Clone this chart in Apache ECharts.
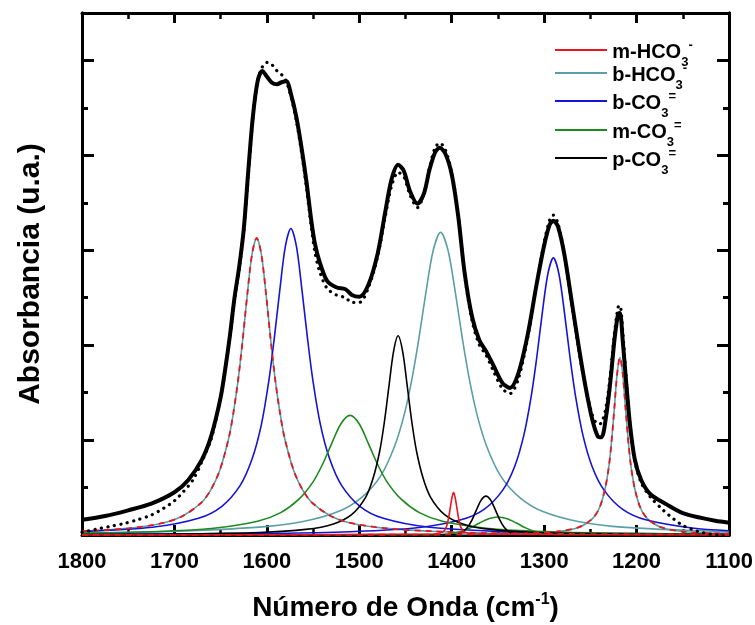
<!DOCTYPE html>
<html>
<head>
<meta charset="utf-8">
<script src="https://cdn.jsdelivr.net/npm/echarts@6/dist/echarts.min.js"></script>
<style>
  html, body { margin: 0; padding: 0; background: #ffffff; }
  #chart { width: 755px; height: 625px; }
</style>
</head>
<body>
<div id="chart"></div>
<script>
// Wavenumber axis (cm-1), drawn high to low
const xMin = 1100;
const xMax = 1800;
const xStep = 100;
// Absorbance axis (arbitrary units, no labels)
const yMin = 0;
const yMax = 5.5;

// Measured spectrum  [wavenumber, absorbance]
const measured = [
  [1800,0.03],[1785,0.06],[1770,0.09],[1755,0.12],[1740,0.16],[1725,0.21],[1712,0.28],[1700,0.36],
  [1690,0.46],[1680,0.58],[1670,0.78],[1660,1.02],[1650,1.45],[1645,1.75],[1640,2.08],[1635,2.48],
  [1630,2.80],[1625,3.20],[1620,3.80],[1615,4.40],[1610,4.78],[1605,4.93],[1600,4.98],[1595,4.96],
  [1590,4.90],[1584,4.85],[1579,4.78],[1574,4.62],[1568,4.36],[1562,4.00],[1557,3.65],[1552,3.25],
  [1548,2.98],[1543,2.78],[1535,2.60],[1525,2.53],[1515,2.50],[1508,2.45],[1500,2.45],[1490,2.61],
  [1480,2.94],[1472,3.35],[1465,3.68],[1458,3.82],[1452,3.78],[1445,3.58],[1437,3.45],[1430,3.60],
  [1424,3.87],[1418,4.08],[1413,4.13],[1407,4.06],[1400,3.82],[1393,3.38],[1386,2.74],[1378,2.26],
  [1370,2.00],[1363,1.90],[1355,1.73],[1345,1.54],[1337,1.49],[1328,1.64],[1318,2.07],[1308,2.65],
  [1300,3.08],[1294,3.32],[1290,3.37],[1285,3.28],[1278,2.95],[1270,2.43],[1262,1.92],[1255,1.55],
  [1248,1.27],[1242,1.17],[1238,1.18],[1233,1.35],[1228,1.72],[1224,2.12],[1220,2.40],[1218,2.42],
  [1215,2.15],[1211,1.62],[1207,1.15],[1202,0.78],[1195,0.55],[1185,0.40],[1171,0.26],[1160,0.17],
  [1150,0.10],[1140,0.06],[1131,0.03],[1120,0.01],[1112,0.00],[1100,-0.02]
];

// Sum of the fitted bands
const fitTotal = [
  [1800,0.16],[1775,0.20],[1750,0.26],[1725,0.33],[1700,0.45],[1685,0.58],[1670,0.80],[1660,1.05],
  [1650,1.45],[1645,1.75],[1640,2.10],[1635,2.50],[1630,2.82],[1625,3.22],[1620,3.85],[1615,4.42],
  [1610,4.78],[1605,4.89],[1600,4.83],[1595,4.77],[1589,4.75],[1584,4.77],[1579,4.78],[1574,4.65],
  [1568,4.40],[1562,4.05],[1557,3.71],[1552,3.32],[1548,3.07],[1543,2.88],[1535,2.68],[1525,2.61],
  [1515,2.59],[1508,2.53],[1500,2.51],[1490,2.64],[1480,2.97],[1472,3.40],[1465,3.75],[1458,3.90],
  [1452,3.84],[1445,3.62],[1437,3.49],[1430,3.60],[1424,3.85],[1418,4.03],[1413,4.08],[1407,4.02],
  [1400,3.80],[1393,3.36],[1386,2.76],[1378,2.30],[1370,2.05],[1363,1.94],[1355,1.79],[1345,1.60],
  [1337,1.55],[1328,1.70],[1318,2.10],[1308,2.65],[1300,3.05],[1294,3.27],[1290,3.31],[1285,3.25],
  [1278,2.95],[1270,2.45],[1262,1.95],[1255,1.55],[1248,1.22],[1242,1.04],[1238,1.03],[1233,1.25],
  [1228,1.65],[1224,2.05],[1220,2.33],[1218,2.34],[1215,2.05],[1211,1.58],[1207,1.15],[1202,0.80],
  [1195,0.58],[1185,0.43],[1167,0.32],[1150,0.23],[1130,0.18],[1115,0.15],[1100,0.13]
];

// Monodentate bicarbonate bands
const mHCO3_1611 = [
  [1800,0.04],[1750,0.07],[1711,0.13],[1691,0.20],[1671,0.34],[1661,0.47],[1651,0.68],[1641,1.03],
  [1636,1.30],[1631,1.64],[1626,2.07],[1621,2.55],[1616,2.96],[1611,3.13],[1606,2.96],[1601,2.55],
  [1596,2.07],[1591,1.64],[1586,1.30],[1581,1.03],[1571,0.68],[1561,0.47],[1551,0.34],[1531,0.20],
  [1511,0.13],[1471,0.07],[1422,0.04],[1361,0.02],[1261,0.01],[1100,0.005]
];
const mHCO3_1398 = [
  [1800,0],[1420,0.01],[1410,0.03],[1406,0.08],[1403,0.20],[1400,0.38],[1398,0.45],[1396,0.38],
  [1393,0.20],[1390,0.08],[1386,0.03],[1376,0.01],[1100,0]
];
const mHCO3_1218 = [
  [1800,0.001],[1518,0.002],[1338,0.012],[1288,0.034],[1263,0.08],[1248,0.17],[1240,0.29],[1234,0.49],
  [1230,0.72],[1227.5,0.94],[1224,1.34],[1221,1.70],[1218,1.87],[1215,1.70],[1212,1.34],[1208.5,0.94],
  [1206,0.72],[1202,0.49],[1196,0.29],[1188,0.17],[1173,0.08],[1148,0.034],[1100,0.013]
];

// Bidentate bicarbonate band
const bHCO3_1412 = [
  [1800,0.022],[1712,0.036],[1612,0.08],[1562,0.14],[1522,0.25],[1497,0.40],[1477,0.62],[1462,0.93],
  [1452,1.245],[1444,1.595],[1436,2.04],[1428,2.55],[1420,3.00],[1412,3.19],[1404,3.00],[1396,2.55],
  [1388,2.04],[1380,1.595],[1372,1.245],[1362,0.93],[1347,0.62],[1327,0.40],[1302,0.25],[1262,0.14],
  [1212,0.08],[1112,0.036],[1100,0.033]
];

// Bidentate carbonate bands
const bCO3_1574 = [
  [1800,0.036],[1724,0.081],[1674,0.176],[1649,0.30],[1629,0.52],[1616,0.80],[1606,1.16],[1598,1.615],
  [1592,2.07],[1586,2.58],[1580,3.04],[1574,3.23],[1568,3.04],[1562,2.58],[1556,2.07],[1550,1.615],
  [1542,1.16],[1532,0.80],[1519,0.52],[1499,0.30],[1474,0.176],[1424,0.081],[1348,0.036],[1274,0.021],
  [1100,0.008]
];
const bCO3_1290 = [
  [1800,0.0065],[1590,0.019],[1510,0.035],[1440,0.073],[1390,0.16],[1365,0.27],[1345,0.47],[1332,0.72],
  [1322,1.05],[1314,1.46],[1308,1.87],[1302,2.34],[1296,2.75],[1290,2.92],[1284,2.75],[1278,2.34],
  [1272,1.87],[1266,1.46],[1258,1.05],[1248,0.72],[1235,0.47],[1215,0.27],[1190,0.16],[1140,0.073],
  [1100,0.045]
];

// Monodentate carbonate bands
const mCO3_1510 = [
  [1800,0.019],[1710,0.040],[1660,0.068],[1610,0.145],[1585,0.236],[1565,0.38],[1550,0.56],[1540,0.74],
  [1530,0.96],[1520,1.17],[1510,1.26],[1500,1.17],[1490,0.96],[1480,0.74],[1470,0.56],[1455,0.38],
  [1435,0.236],[1410,0.145],[1360,0.068],[1310,0.040],[1220,0.019],[1100,0.0097]
];
const mCO3_1350 = [
  [1800,0],[1420,0.001],[1405,0.008],[1390,0.036],[1380,0.075],[1370,0.126],[1360,0.171],[1350,0.19],
  [1340,0.171],[1330,0.126],[1320,0.075],[1310,0.036],[1295,0.008],[1280,0.001],[1100,0]
];

// Polydentate carbonate bands
const pCO3_1458 = [
  [1800,0.005],[1708,0.0097],[1608,0.027],[1558,0.059],[1528,0.117],[1508,0.218],[1493,0.40],[1485,0.60],
  [1478,0.88],[1473,1.18],[1468,1.56],[1463,1.93],[1458,2.10],[1453,1.93],[1448,1.56],[1443,1.18],
  [1438,0.88],[1431,0.60],[1423,0.40],[1408,0.218],[1388,0.117],[1358,0.059],[1308,0.027],[1208,0.0097],
  [1100,0.0047]
];
const pCO3_1363 = [
  [1800,0],[1400,0.003],[1390,0.02],[1383,0.08],[1378,0.16],[1373,0.27],[1368,0.37],[1363,0.41],
  [1358,0.37],[1353,0.27],[1348,0.16],[1343,0.08],[1336,0.02],[1328,0.003],[1100,0]
];

// Legend entries and their sub/superscript pieces
const legendNames = ['m-HCO3-', 'b-HCO3-', 'b-CO3=', 'm-CO3=', 'p-CO3='];
const legendParts = {
  'm-HCO3-': ['m-HCO', '3', '-'],
  'b-HCO3-': ['b-HCO', '3', '-'],
  'b-CO3=':  ['b-CO', '3', '='],
  'm-CO3=':  ['m-CO', '3', '='],
  'p-CO3=':  ['p-CO', '3', '=']
};

const colors = {
  red: '#e8161e',
  teal: '#5a9fa6',
  blue: '#1414d6',
  green: '#1e8a1e',
  black: '#000000'
};

const FONT = '"Liberation Sans", Arial, Helvetica, sans-serif';

function band(name, data, color, extra) {
  return Object.assign({
    name: name,
    type: 'line',
    data: data,
    xAxisIndex: 0,
    yAxisIndex: 0,
    symbol: 'none',
    smooth: 0.3,
    color: color,
    lineStyle: { color: color, width: 1.6 },
    emphasis: { disabled: true },
    z: 2
  }, extra || {});
}

const tickStyle = { color: '#000', width: 3 };

function xAxisDef(position, showLabels) {
  return {
    type: 'value',
    position: position,
    min: xMin, max: xMax, interval: xStep,
    inverse: true,
    axisLine: { show: true, onZero: false, lineStyle: { color: '#000', width: 3 } },
    axisTick: { show: true, inside: true, length: 10, lineStyle: tickStyle },
    minorTick: { show: true, splitNumber: 2, length: 6, lineStyle: { color: '#000', width: 2.5 } },
    splitLine: { show: false },
    axisLabel: {
      show: showLabels, color: '#000', fontSize: 22, fontWeight: 'bold', fontFamily: FONT, margin: 16,
      formatter: function (v) { return String(v); }
    },
    name: showLabels ? '{t|Número de Onda (cm}{s|-1}{t|)}' : '',
    nameLocation: 'middle',
    nameGap: 57,
    nameTextStyle: {
      rich: {
        t: { fontSize: 28, fontWeight: 'bold', fontFamily: FONT, color: '#000', lineHeight: 32 },
        s: { fontSize: 16, fontWeight: 'bold', fontFamily: FONT, color: '#000', verticalAlign: 'top', lineHeight: 18 }
      }
    }
  };
}

function yAxisDef(position, step, tickLen, withName) {
  return {
    type: 'value',
    position: position,
    min: yMin, max: yMax, interval: step,
    axisLine: { show: true, onZero: false, lineStyle: { color: '#000', width: 3 } },
    axisTick: { show: true, inside: true, length: tickLen, lineStyle: tickStyle },
    splitLine: { show: false },
    axisLabel: { show: false },
    name: withName ? 'Absorbancia (u.a.)' : '',
    nameLocation: 'middle',
    nameRotate: 90,
    nameGap: 36,
    nameTextStyle: { fontSize: 30, fontWeight: 'bold', fontFamily: FONT, color: '#000' }
  };
}

// One legend block per entry so each row sits where it should.
// Each rich-text row is 30px tall and the swatch sits at its middle;
// the pieces are top-aligned and pushed down with padding.
const legendRowCenters = [50, 73, 101, 130, 158];
const legendRich = {
  z: { fontSize: 1, lineHeight: 30, verticalAlign: 'top' },
  m: { fontSize: 20, fontWeight: 'bold', fontFamily: FONT, color: '#000', lineHeight: 30, verticalAlign: 'top', padding: [7.5, 0, 0, 0] },
  s: { fontSize: 13, fontWeight: 'bold', fontFamily: FONT, color: '#000', lineHeight: 30, verticalAlign: 'top', padding: [20.5, 0, 0, 0] },
  u: { fontSize: 13, fontWeight: 'bold', fontFamily: FONT, color: '#000', lineHeight: 30, verticalAlign: 'top', padding: [3.5, 0, 0, 0] }
};
const legends = legendNames.map(function (name, i) {
  return {
    data: [name],
    orient: 'vertical',
    left: 555,
    top: legendRowCenters[i] - 15,
    padding: 0,
    icon: 'rect',
    itemWidth: 52,
    itemHeight: 2,
    selectedMode: false,
    formatter: function (n) {
      const p = legendParts[n];
      return '{z| }{m|' + p[0] + '}{s|' + p[1] + '}{u|' + p[2] + '}';
    },
    textStyle: { fontSize: 20, fontWeight: 'bold', fontFamily: FONT, color: '#000', rich: legendRich }
  };
});

const dashedOverlay = { lineStyle: { color: colors.red, width: 1.8, type: [6, 5] }, z: 3 };

const option = {
  animation: false,
  backgroundColor: '#ffffff',
  grid: { left: 82, right: 26, top: 13, bottom: 90, containLabel: false, outerBoundsMode: 'none' },
  xAxis: [xAxisDef('bottom', true), xAxisDef('top', false)],
  yAxis: [
    yAxisDef('left', 0.5, 6, true),
    yAxisDef('left', 1, 12, false),
    yAxisDef('right', 0.5, 6, false),
    yAxisDef('right', 1, 12, false)
  ],
  legend: legends,
  series: [
    band('b-HCO3-', bHCO3_1412, colors.teal),
    band('b-HCO3-', mHCO3_1611, colors.teal),
    band('b-HCO3-', mHCO3_1218, colors.teal),
    band('b-CO3=', bCO3_1574, colors.blue),
    band('b-CO3=', bCO3_1290, colors.blue),
    band('m-CO3=', mCO3_1510, colors.green),
    band('m-CO3=', mCO3_1350, colors.green),
    band('p-CO3=', pCO3_1458, colors.black),
    band('p-CO3=', pCO3_1363, colors.black),
    band('m-HCO3-', mHCO3_1398, colors.red),
    band('m-HCO3-', mHCO3_1611, colors.red, dashedOverlay),
    band('m-HCO3-', mHCO3_1218, colors.red, dashedOverlay),
    band('Ajuste', fitTotal, colors.black, { lineStyle: { color: '#000', width: 4 }, z: 4 }),
    band('Experimental', measured, colors.black, {
      lineStyle: { color: '#000', width: 3.2, type: [0.1, 6.5], cap: 'round' }, z: 5
    })
  ]
};

const chart = echarts.init(document.getElementById('chart'), null, { renderer: 'canvas' });
chart.setOption(option);
</script>
</body>
</html>
